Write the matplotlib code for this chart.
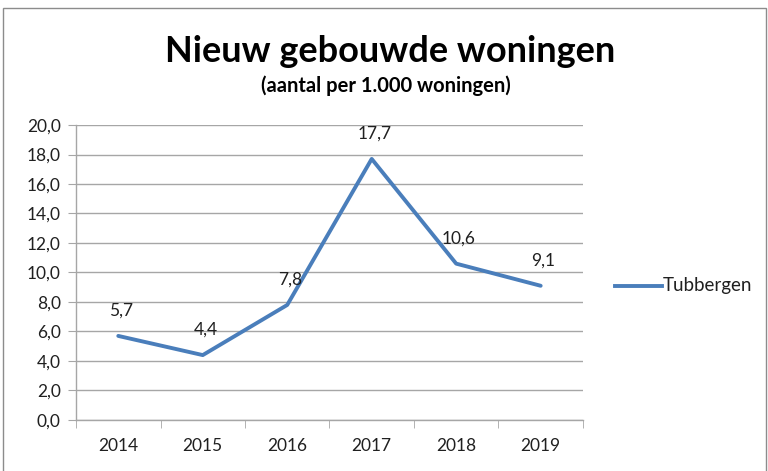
import matplotlib.pyplot as plt
from matplotlib.patches import Rectangle
from matplotlib.lines import Line2D
import numpy as np

jaren = ['2014', '2015', '2016', '2017', '2018', '2019']
tubbergen = [5.7, 4.4, 7.8, 17.7, 10.6, 9.1]

plt.rcParams['font.family'] = ['Lato', 'DejaVu Sans']

fig = plt.figure(figsize=(7.68, 4.71), dpi=100)
ax = fig.add_axes([0.099, 0.1083, 0.660, 0.6263])

x = np.arange(len(jaren))
lijnkleur = '#4a7ebb'
ax.plot(x, tubbergen, color=lijnkleur, linewidth=2.8, solid_capstyle='round')

for xi, v in zip(x, tubbergen):
    ax.annotate(f'{v:.1f}'.replace('.', ','), (xi, v), xytext=(2, 18),
                textcoords='offset points', ha='center', va='center',
                fontsize=12.5, color='#202020')

ax.set_xlim(-0.5, len(jaren) - 0.5)
ax.set_ylim(0, 20)
ax.set_yticks(np.arange(0, 21, 2))
ax.set_yticklabels([f'{v:.1f}'.replace('.', ',') for v in np.arange(0, 21, 2)])
ax.set_xticks(x)
ax.set_xticklabels(jaren)
ax.set_xticks(np.arange(-0.5, len(jaren)), minor=True)

grijs = '#a6a6a6'
ax.grid(axis='y', color=grijs, linewidth=1)
ax.set_axisbelow(True)
for s in ['top', 'right']:
    ax.spines[s].set_visible(False)
for s in ['left', 'bottom']:
    ax.spines[s].set_color(grijs)
    ax.spines[s].set_linewidth(1)

ax.tick_params(axis='y', length=6, color=grijs, labelsize=12.5, labelcolor='#202020', pad=5)
ax.tick_params(axis='x', which='major', length=0, labelsize=12.5, labelcolor='#202020', pad=13)
ax.tick_params(axis='x', which='minor', length=6, color=grijs)

fig.text(0.508, 1 - 62 / 471, 'Nieuw gebouwde woningen', ha='center', va='baseline',
         fontsize=26, fontweight='bold', color='#000000')
fig.text(0.503, 1 - 92 / 471, '(aantal per 1.000 woningen)', ha='center', va='baseline',
         fontsize=14.5, fontweight='bold', color='#000000')

# legenda rechts van de grafiek
fig.add_artist(Line2D([615 / 768, 662 / 768], [1 - 286 / 471, 1 - 286 / 471],
                      color=lijnkleur, linewidth=2.8, transform=fig.transFigure))
fig.text(663 / 768, 1 - 286 / 471, 'Tubbergen', ha='left', va='center',
         fontsize=13.5, color='#202020')

# kader om de grafiek
fig.add_artist(Rectangle((3 / 768, -0.02), 763 / 768, 1 - 8 / 471 + 0.02,
                         transform=fig.transFigure, fill=False,
                         edgecolor='#8c8c8c', linewidth=1))

fig.savefig('out.png', dpi=100)
